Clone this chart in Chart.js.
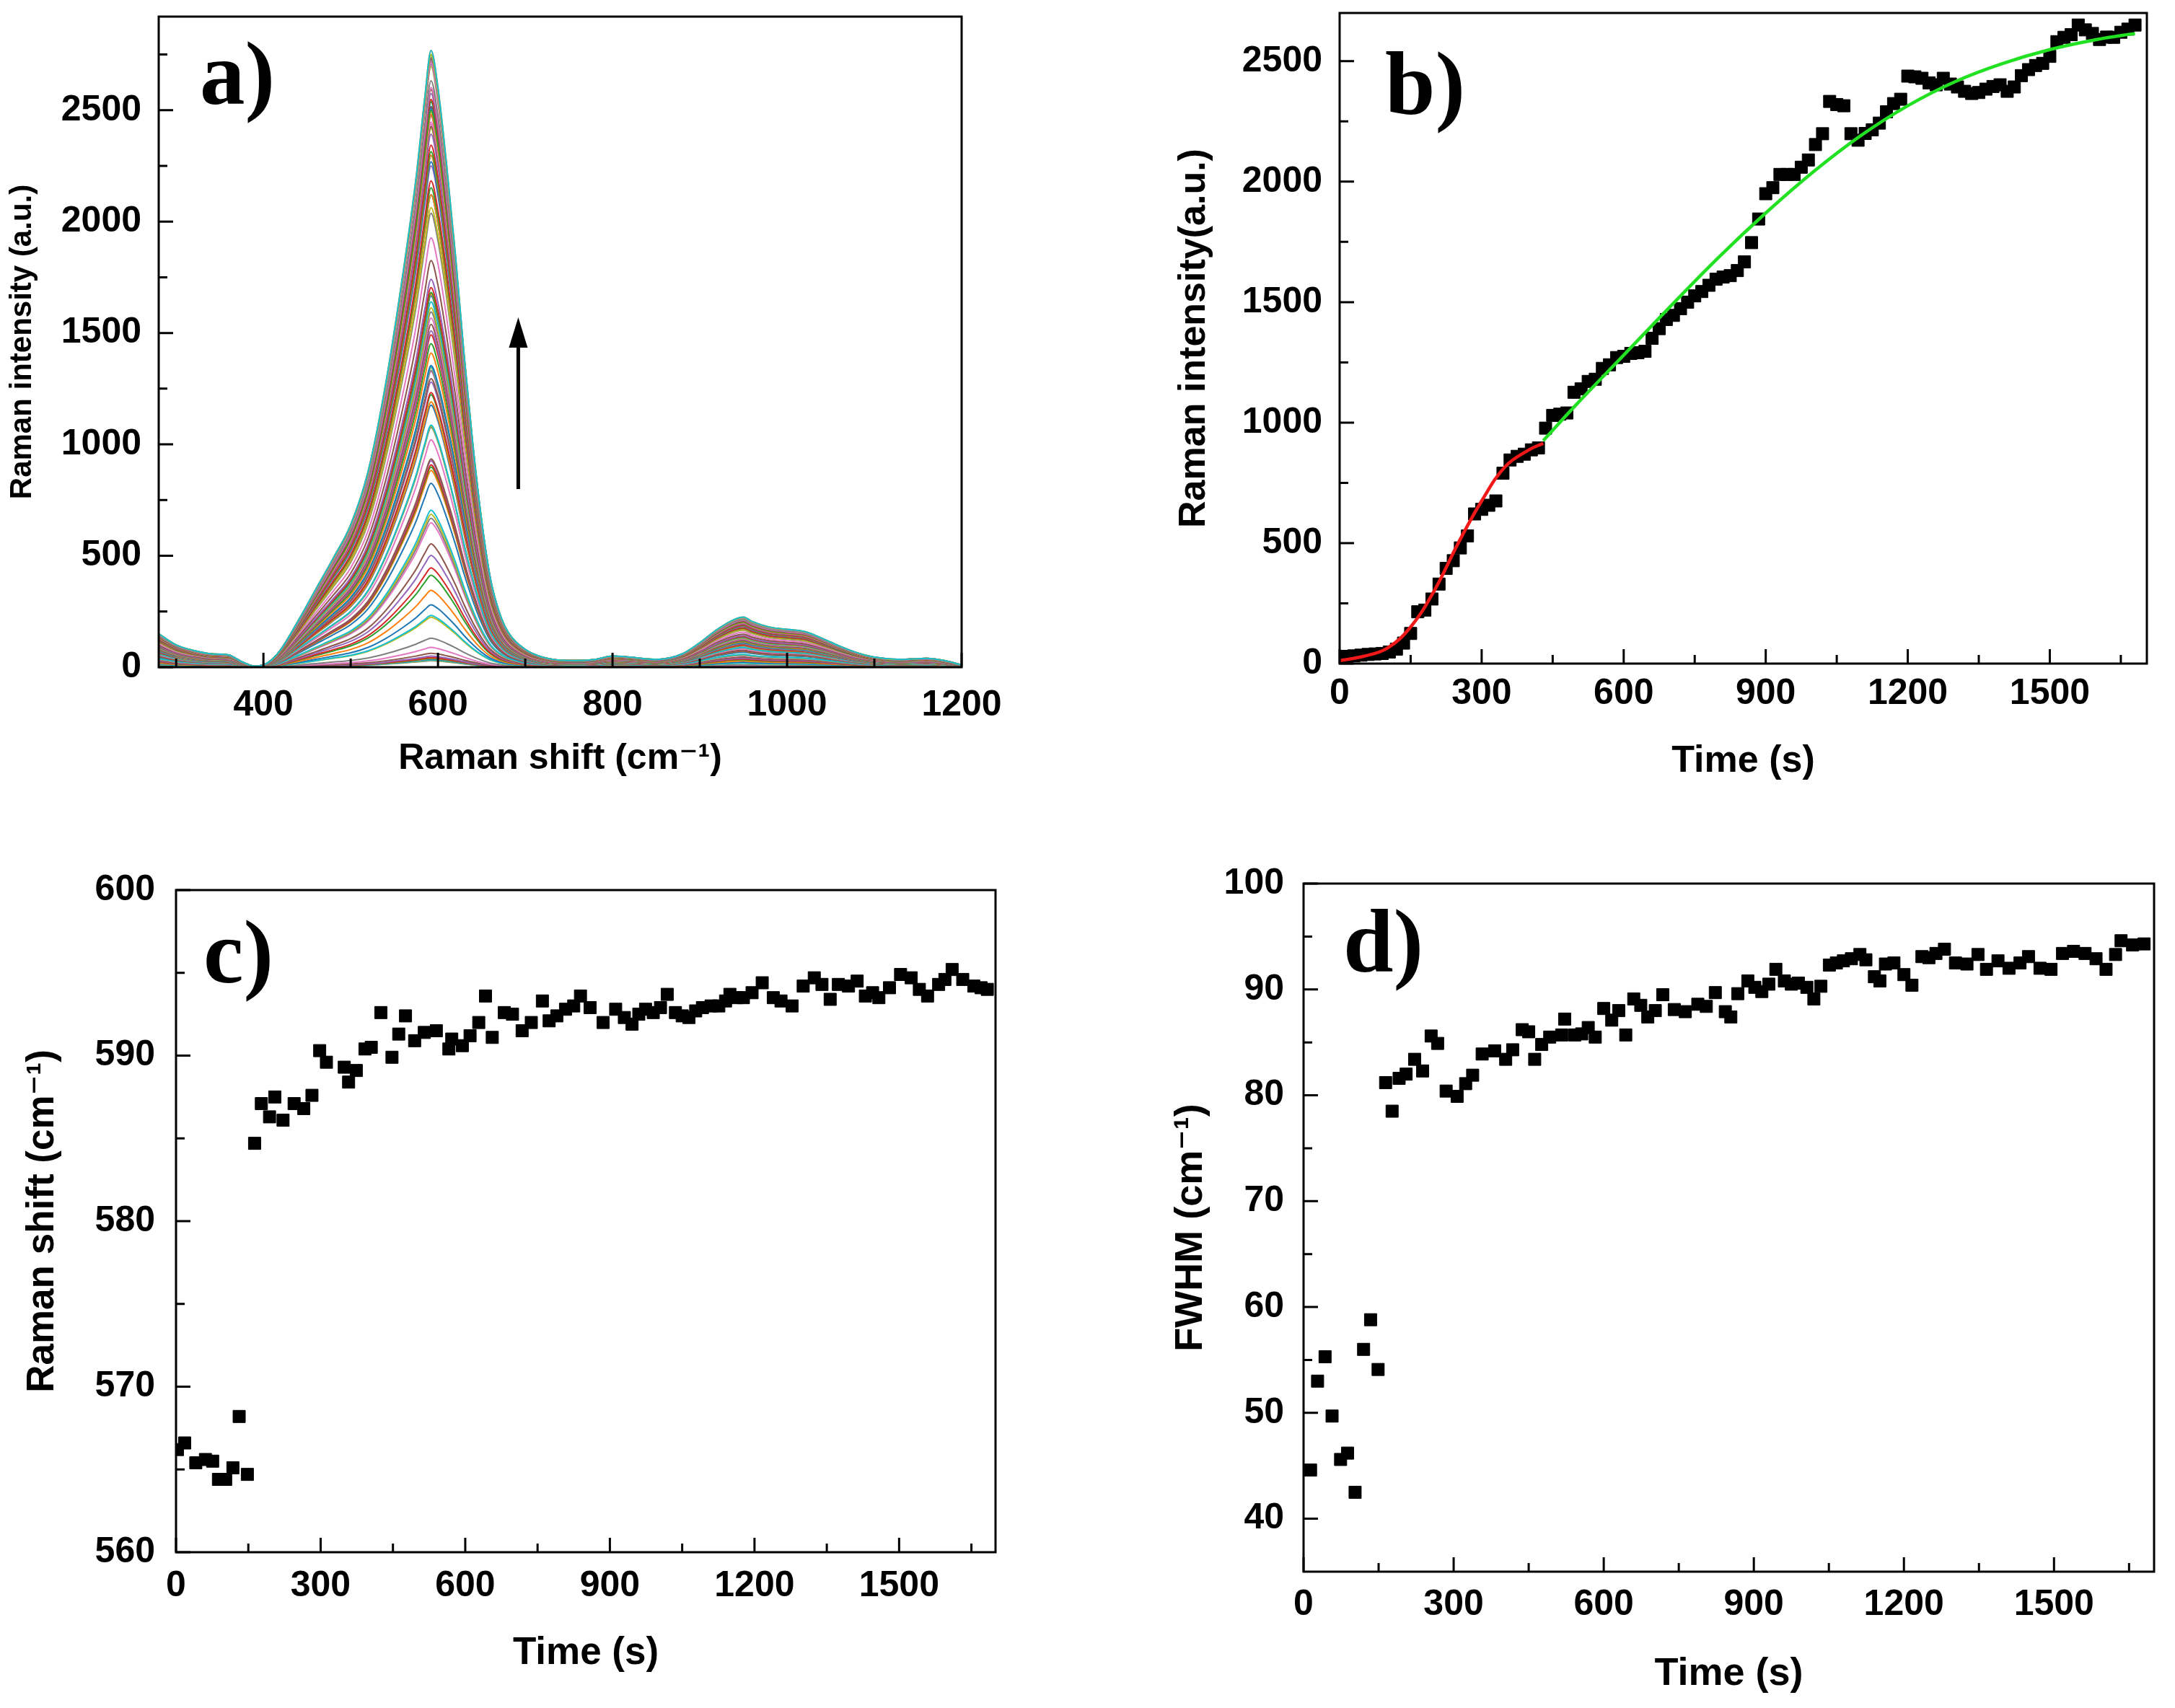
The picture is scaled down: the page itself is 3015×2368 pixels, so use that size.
<!DOCTYPE html>
<html lang="en">
<head>
<meta charset="utf-8">
<title>Raman kinetics</title>
<script src="https://cdn.jsdelivr.net/npm/chart.js@4.4.1/dist/chart.umd.min.js"></script>
<style>
  body { margin: 0; background: #fff; width: 3015px; height: 2368px; position: relative; overflow: hidden; }
  .panel { position: absolute; }
</style>
</head>
<body>
<div class="panel" id="pa"><canvas></canvas></div>
<div class="panel" id="pb"><canvas></canvas></div>
<div class="panel" id="pc"><canvas></canvas></div>
<div class="panel" id="pd"><canvas></canvas></div>
<script>
// ---- data ----

// a) top (last) spectrum; the other spectra follow the peak heights of panel b
const shiftA = [280, 300, 320, 340, 360, 375, 390, 400, 410, 420, 440, 460, 480, 500, 520, 540, 560, 575, 585, 592,
  600, 610, 620, 630, 640, 650, 660, 670, 680, 700, 720, 750, 780, 800, 820, 850, 880, 900, 920, 940,
  950, 960, 980, 1000, 1020, 1040, 1060, 1080, 1100, 1130, 1160, 1180, 1200];
const topSpectrumA = [150, 100, 75, 60, 55, 25, 5, 10, 35, 80, 210, 350, 490, 640, 880, 1270, 1770, 2200, 2560, 2768,
  2600, 2250, 1850, 1400, 1000, 660, 400, 250, 160, 80, 45, 30, 35, 50, 45, 35, 60, 110, 170, 215,
  225, 205, 180, 170, 160, 130, 95, 65, 45, 35, 40, 30, 10];
const arrowA = { x: 692, from: 800, to: 1570 };

// b) peak intensity vs time
const timeB = [0, 15, 30, 45, 60, 75, 90, 105, 120, 135,
  150, 165, 180, 195, 210, 225, 240, 255, 270, 285,
  300, 315, 330, 345, 360, 375, 390, 405, 420, 435,
  450, 465, 480, 495, 510, 525, 540, 555, 570, 585,
  600, 615, 630, 645, 660, 675, 690, 705, 720, 735,
  750, 765, 780, 795, 810, 825, 840, 855, 870, 885,
  900, 915, 930, 945, 960, 975, 990, 1005, 1020, 1035,
  1050, 1065, 1080, 1095, 1110, 1125, 1140, 1155, 1170, 1185,
  1200, 1215, 1230, 1245, 1260, 1275, 1290, 1305, 1320, 1335,
  1350, 1365, 1380, 1395, 1410, 1425, 1440, 1455, 1470, 1485,
  1500, 1515, 1530, 1545, 1560, 1575, 1590, 1605, 1620, 1635,
  1650, 1665, 1680];
const intensityB = [28, 30, 32, 35, 38, 40, 42, 48, 60, 85,
  125, 215, 222, 268, 330, 395, 427, 480, 530, 621,
  640, 657, 675, 790, 845, 860, 869, 887, 895, 977,
  1030, 1035, 1040, 1126, 1140, 1171, 1180, 1225, 1240, 1270,
  1275, 1287, 1290, 1296, 1350, 1390, 1428, 1445, 1473, 1500,
  1526, 1544, 1570, 1595, 1604, 1610, 1631, 1667, 1747, 1845,
  1950, 1975, 2030, 2030, 2030, 2060, 2090, 2154, 2199, 2333,
  2320, 2315, 2199, 2172, 2200, 2215, 2243, 2290, 2324, 2342,
  2438, 2435, 2429, 2410, 2402, 2429, 2405, 2393, 2375, 2366,
  2370, 2384, 2395, 2402, 2375, 2393, 2440, 2465, 2482, 2491,
  2520, 2581, 2599, 2610, 2650, 2630, 2615, 2590, 2600, 2599,
  2620, 2633, 2650];
const redFitTime = [0, 50, 100, 150, 200, 250, 300, 350, 400, 430];
const redFitValue = [12, 30, 63, 152, 303, 498, 675, 818, 887, 914];
const greenFitTime = [430, 500, 600, 700, 800, 900, 1000, 1100, 1200, 1300, 1400, 1500, 1600, 1680];
const greenFitValue = [925, 1075, 1280, 1485, 1685, 1870, 2040, 2190, 2315, 2415, 2490, 2548, 2590, 2615];

// c) peak position vs time
const timeC = [3, 18, 41, 61, 76, 88, 103, 118, 131, 148,
  163, 177, 194, 205, 222, 245, 265, 282, 298, 312,
  349, 358, 374, 392, 405, 425, 448, 462, 476, 495,
  515, 540, 566, 572, 594, 610, 628, 642, 656, 681,
  698, 718, 737, 760, 774, 790, 808, 825, 839, 859,
  886, 912, 930, 946, 960, 974, 990, 1005, 1019, 1036,
  1050, 1064, 1078, 1092, 1110, 1126, 1140, 1149, 1163, 1177,
  1195, 1216, 1239, 1255, 1278, 1301, 1324, 1340, 1357, 1374,
  1395, 1413, 1430, 1445, 1458, 1480, 1503, 1525, 1542, 1559,
  1582, 1595, 1610, 1632, 1655, 1670, 1683];
const shiftC = [566.2, 566.6, 565.4, 565.6, 565.5, 564.4, 564.4, 565.1, 568.2, 564.7,
  584.7, 587.1, 586.3, 587.5, 586.1, 587.1, 586.8, 587.6, 590.3, 589.6,
  589.3, 588.4, 589.1, 590.4, 590.5, 592.6, 589.9, 591.3, 592.4, 590.9,
  591.4, 591.5, 590.4, 591.0, 590.6, 591.2, 592.0, 593.6, 591.1, 592.6,
  592.5, 591.5, 592.0, 593.3, 592.1, 592.4, 592.8, 593.0, 593.6, 592.9,
  592.0, 592.8, 592.3, 591.9, 592.5, 592.8, 592.6, 592.9, 593.7, 592.6,
  592.4, 592.3, 592.7, 592.9, 593.0, 593.0, 593.3, 593.7, 593.5, 593.5,
  593.8, 594.4, 593.5, 593.3, 593.0, 594.2, 594.7, 594.3, 593.4, 594.3,
  594.2, 594.5, 593.6, 593.8, 593.5, 594.1, 594.9, 594.7, 594.0, 593.6,
  594.3, 594.6, 595.2, 594.6, 594.2, 594.1, 594.0];

// d) FWHM vs time
const timeD = [14, 28, 43, 57, 74, 88, 103, 120, 134, 149,
  164, 177, 191, 205, 222, 238, 255, 268, 285, 307,
  324, 338, 357, 382, 404, 418, 437, 450, 462, 476,
  492, 516, 522, 542, 556, 569, 583, 600, 616, 630,
  644, 660, 674, 688, 703, 718, 741, 763, 788, 805,
  823, 843, 854, 868, 888, 902, 916, 930, 944, 961,
  975, 989, 1006, 1020, 1034, 1051, 1065, 1079, 1095, 1112,
  1124, 1141, 1152, 1163, 1180, 1200, 1216, 1236, 1250, 1264,
  1281, 1303, 1326, 1348, 1365, 1388, 1410, 1432, 1449, 1472,
  1494, 1517, 1539, 1562, 1584, 1604, 1623, 1634, 1657, 1680];
const fwhmD = [44.6, 53.0, 55.3, 49.7, 45.6, 46.2, 42.5, 56.0, 58.8, 54.1,
  81.2, 78.5, 81.6, 82.0, 83.4, 82.3, 85.6, 84.9, 80.4, 79.9,
  81.1, 81.9, 83.9, 84.2, 83.4, 84.3, 86.2, 86.0, 83.4, 84.8,
  85.5, 85.7, 87.2, 85.7, 85.8, 86.4, 85.5, 88.2, 87.1, 88.0,
  85.7, 89.1, 88.5, 87.4, 88.0, 89.5, 88.1, 87.9, 88.6, 88.4,
  89.7, 87.9, 87.4, 89.6, 90.8, 90.2, 89.8, 90.5, 91.9, 90.8,
  90.5, 90.6, 90.2, 89.1, 90.3, 92.3, 92.5, 92.7, 92.9, 93.3,
  92.8, 91.2, 90.8, 92.4, 92.5, 91.4, 90.4, 93.1, 93.0, 93.4,
  93.8, 92.5, 92.4, 93.3, 91.9, 92.7, 92.0, 92.5, 93.1, 92.0,
  91.9, 93.4, 93.6, 93.4, 92.9, 91.9, 93.3, 94.6, 94.2, 94.3];

// tick positions
const ticksAX = [400, 600, 800, 1000, 1200], minorAX = [300, 500, 700, 900, 1100];
const ticksAY = [0, 500, 1000, 1500, 2000, 2500], minorAY = [250, 750, 1250, 1750, 2250, 2750];
const ticksTime = [0, 300, 600, 900, 1200, 1500], minorTime = [150, 450, 750, 1050, 1350, 1650];
const ticksBY = [0, 500, 1000, 1500, 2000, 2500], minorBY = [250, 750, 1250, 1750, 2250];
const ticksCY = [560, 570, 580, 590, 600], minorCY = [565, 575, 585, 595];
const ticksDY = [40, 50, 60, 70, 80, 90, 100], minorDY = [45, 55, 65, 75, 85, 95];

// ---- drawing ----
const SANS = "'Liberation Sans', Arial, 'DejaVu Sans', sans-serif";
const SERIF = "'Liberation Serif', 'Times New Roman', serif";
const PALETTE = ['#1f77b4', '#ff7f0e', '#2ca02c', '#d62728', '#9467bd',
  '#8c564b', '#e377c2', '#7f7f7f', '#bcbd22', '#17becf'];

function pairs(xs, ys) {
  return xs.map((x, i) => ({ x: x, y: ys[i] }));
}

// box border plus inward ticks on the bottom and left axes
function framePlugin(t) {
  return {
    id: 'frame',
    afterDatasetsDraw(chart) {
      const { ctx, chartArea: a } = chart;
      const sx = chart.scales.x, sy = chart.scales.y;
      ctx.save();
      ctx.strokeStyle = '#000';
      ctx.lineWidth = 3;
      ctx.beginPath();
      const xt = (vals, len) => vals.forEach(v => {
        const p = sx.getPixelForValue(v);
        if (p < a.left - 1 || p > a.right + 1) return;
        ctx.moveTo(p, a.bottom); ctx.lineTo(p, a.bottom - len);
      });
      const yt = (vals, len) => vals.forEach(v => {
        const p = sy.getPixelForValue(v);
        if (p < a.top - 1 || p > a.bottom + 1) return;
        ctx.moveTo(a.left, p); ctx.lineTo(a.left + len, p);
      });
      xt(t.xMajor, 20); xt(t.xMinor, 12);
      yt(t.yMajor, 20); yt(t.yMinor, 12);
      ctx.stroke();
      ctx.strokeRect(a.left, a.top, a.width, a.height);
      ctx.restore();
    }
  };
}

function labelPlugin(text, dx, dy) {
  return {
    id: 'panelLabel',
    afterDraw(chart) {
      const { ctx, chartArea: a } = chart;
      ctx.save();
      ctx.fillStyle = '#000';
      ctx.font = 'bold 125px ' + SERIF;
      ctx.textBaseline = 'alphabetic';
      ctx.fillText(text, a.left + dx, a.top + dy);
      ctx.restore();
    }
  };
}

const arrowPlugin = {
  id: 'arrow',
  afterDatasetsDraw(chart) {
    const { ctx } = chart;
    const x = chart.scales.x.getPixelForValue(arrowA.x);
    const y0 = chart.scales.y.getPixelForValue(arrowA.from);
    const y1 = chart.scales.y.getPixelForValue(arrowA.to);
    ctx.save();
    ctx.strokeStyle = '#000';
    ctx.fillStyle = '#000';
    ctx.lineWidth = 5;
    ctx.beginPath();
    ctx.moveTo(x, y0); ctx.lineTo(x, y1 + 30);
    ctx.stroke();
    ctx.beginPath();
    ctx.moveTo(x, y1); ctx.lineTo(x - 13, y1 + 42); ctx.lineTo(x + 13, y1 + 42);
    ctx.closePath();
    ctx.fill();
    ctx.restore();
  }
};

function axis(horizontal, min, max, major, title, titleSize, pad, fit) {
  return {
    type: 'linear', min: min, max: max,
    grid: { display: false, drawTicks: false },
    border: { display: false },
    afterBuildTicks: s => { s.ticks = major.map(v => ({ value: v })); },
    afterFit: s => {
      if (horizontal) s.height = fit; else s.width = fit;
      // the plot box is placed by hand, so drop the label overhang padding
      s.paddingTop = 0; s.paddingBottom = 0; s.paddingLeft = 0; s.paddingRight = 0;
    },
    ticks: {
      padding: pad, color: '#000', autoSkip: false, maxRotation: 0,
      font: { family: SANS, size: 50, weight: 'bold' },
      callback: v => String(v)
    },
    title: {
      display: true, text: title, color: '#000', padding: 0,
      font: { family: SANS, size: titleSize, weight: 'bold' }
    }
  };
}

// box: plot rectangle (L,T,R,B) and the space kept for the axes
function makePanel(id, box, cfg) {
  const left = box.L - box.yw, top = box.T - box.pt;
  const div = document.getElementById(id);
  div.style.left = left + 'px';
  div.style.top = top + 'px';
  div.style.width = (box.R + box.pr - left) + 'px';
  div.style.height = (box.B + box.xh - top) + 'px';
  new Chart(div.querySelector('canvas'), {
    type: 'scatter',
    data: { datasets: cfg.datasets },
    options: {
      animation: false,
      responsive: true,
      maintainAspectRatio: false,
      devicePixelRatio: 1,
      layout: { padding: { top: box.pt, right: box.pr, left: 0, bottom: 0 } },
      plugins: { legend: { display: false }, tooltip: { enabled: false } },
      scales: {
        x: axis(true, cfg.x[0], cfg.x[1], cfg.xTicks, cfg.xTitle, cfg.xTitleSize, cfg.xPad, box.xh),
        y: axis(false, cfg.y[0], cfg.y[1], cfg.yTicks, cfg.yTitle, cfg.yTitleSize, cfg.yPad, box.yw)
      }
    },
    plugins: [framePlugin(cfg.frame), labelPlugin(cfg.label[0], cfg.label[1], cfg.label[2])].concat(cfg.extra || [])
  });
}

function squares(data) {
  return {
    data: data, pointStyle: 'rect', pointRadius: 12, pointHoverRadius: 12,
    backgroundColor: '#000', borderColor: '#000', borderWidth: 1, showLine: false
  };
}

function fitLine(data, color) {
  return {
    data: data, showLine: true, borderColor: color, borderWidth: 4.5,
    pointRadius: 0, tension: 0.4
  };
}

// a) one spectrum per time step, scaled to the peak heights of panel b
const topPeak = Math.max(...intensityB);
const spectraA = intensityB.map((h, i) => ({
  data: shiftA.map((x, k) => ({ x: x, y: topSpectrumA[k] * h / topPeak })),
  showLine: true, borderColor: PALETTE[(i + 7) % PALETTE.length], borderWidth: 2,
  pointRadius: 0, cubicInterpolationMode: 'monotone'
})).reverse(); // Chart.js paints dataset 0 last, so the biggest spectrum ends on top

makePanel('pa', { L: 220, T: 23, R: 1333, B: 925, yw: 214, xh: 157, pt: 23, pr: 70 }, {
  datasets: spectraA,
  x: [280, 1200], y: [0, 2920],
  xTicks: ticksAX, yTicks: ticksAY,
  xTitle: 'Raman shift (cm\u207B\u00B9)', xTitleSize: 50, xPad: 23,
  yTitle: 'Raman intensity (a.u.)', yTitleSize: 42, yPad: 24,
  frame: { xMajor: ticksAX, xMinor: minorAX, yMajor: ticksAY, yMinor: minorAY },
  label: ['a)', 57, 121],
  extra: [arrowPlugin]
});

makePanel('pb', { L: 1857, T: 18, R: 2976, B: 920, yw: 233, xh: 167, pt: 18, pr: 15 }, {
  datasets: [
    fitLine(pairs(redFitTime, redFitValue), '#f01818'),
    fitLine(pairs(greenFitTime, greenFitValue), '#22e022'),
    squares(pairs(timeB, intensityB))
  ],
  x: [0, 1705], y: [0, 2700],
  xTicks: ticksTime, yTicks: ticksBY,
  xTitle: 'Time (s)', xTitleSize: 52, xPad: 12,
  yTitle: 'Raman intensity(a.u.)', yTitleSize: 52, yPad: 24,
  frame: { xMajor: ticksTime, xMinor: minorTime, yMajor: ticksBY, yMinor: minorBY },
  label: ['b)', 63, 140]
});

makePanel('pc', { L: 244, T: 1234, R: 1380, B: 2152, yw: 216, xh: 172, pt: 40, pr: 15 }, {
  datasets: [squares(pairs(timeC, shiftC))],
  x: [0, 1700], y: [560, 600],
  xTicks: ticksTime, yTicks: ticksCY,
  xTitle: 'Time (s)', xTitleSize: 53, xPad: 17,
  yTitle: 'Raman shift (cm\u207B\u00B9)', yTitleSize: 53, yPad: 29,
  frame: { xMajor: ticksTime, xMinor: minorTime, yMajor: ticksCY, yMinor: minorCY },
  label: ['c)', 38, 128]
});

makePanel('pd', { L: 1807, T: 1225, R: 2986, B: 2179, yw: 188, xh: 175, pt: 40, pr: 15 }, {
  datasets: [squares(pairs(timeD, fwhmD))],
  x: [0, 1700], y: [35, 100],
  xTicks: ticksTime, yTicks: ticksDY,
  xTitle: 'Time (s)', xTitleSize: 54, xPad: 16,
  yTitle: 'FWHM (cm\u207B\u00B9)', yTitleSize: 54, yPad: 27,
  frame: { xMajor: ticksTime, xMinor: minorTime, yMajor: ticksDY, yMinor: minorDY },
  label: ['d)', 55, 122]
});
</script>
</body>
</html>
